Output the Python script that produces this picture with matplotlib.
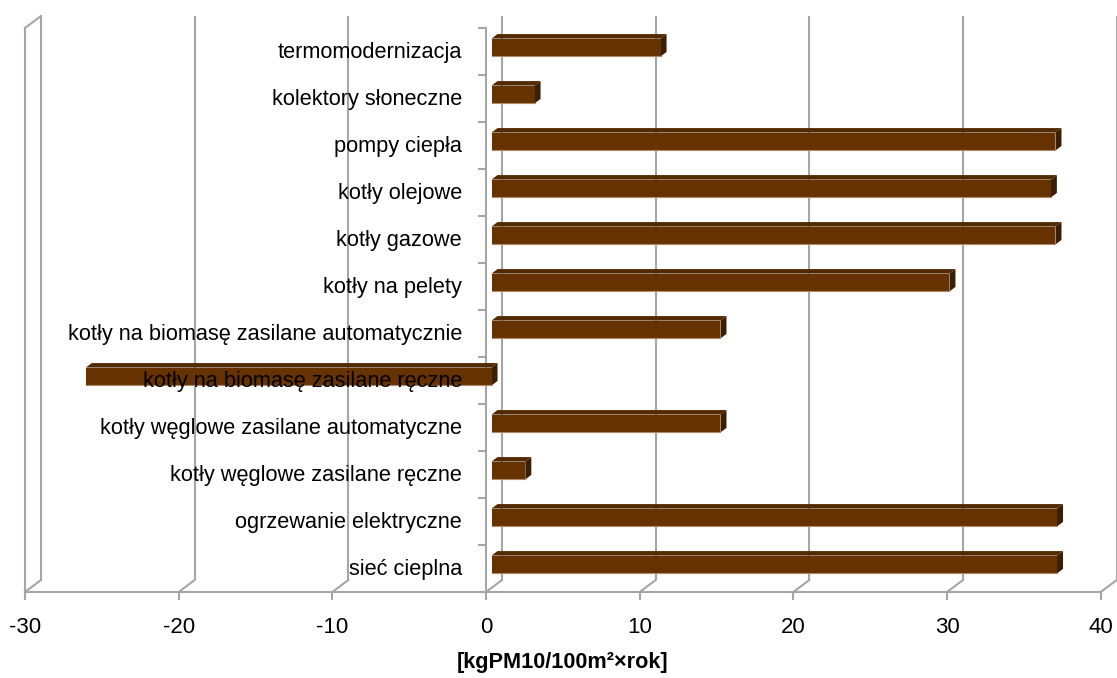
import numpy as np
import matplotlib
matplotlib.use('Agg')
import matplotlib.pyplot as plt
import matplotlib.transforms as mtransforms
from matplotlib.patches import Polygon

categories = ['termomodernizacja', 'kolektory słoneczne', 'pompy ciepła',
              'kotły olejowe', 'kotły gazowe', 'kotły na pelety',
              'kotły na biomasę zasilane automatycznie',
              'kotły na biomasę zasilane ręczne',
              'kotły węglowe zasilane automatyczne',
              'kotły węglowe zasilane ręczne', 'ogrzewanie elektryczne',
              'sieć cieplna']
values = [11.0, 2.8, 36.7, 36.4, 36.7, 29.8, 14.9, -26.4, 14.9, 2.2, 36.8, 36.8]
xticks = [-30, -20, -10, 0, 10, 20, 30, 40]
xlabel = '[kgPM10/100m²×rok]'

plt.rcParams['font.family'] = ['Liberation Sans', 'DejaVu Sans']

grid_c = '#a6a6a6'
front_c = '#663300'
top_c = '#532a00'
side_c = '#3c1e00'

W, H = 1117, 678
fig = plt.figure(figsize=(W / 100, H / 100), dpi=100)
ax = fig.add_axes([25 / W, (H - 592) / H, 1075.7 / W, 564 / H])
ax.set_xlim(-30, 40)
ax.set_ylim(0, len(categories))
ax.set_frame_on(False)


def depth(px, py):
    # pixel offset -> data offset
    o = ax.transData.transform((0, 0))
    return ax.transData.inverted().transform(o + np.array([px, py]))


bdx, bdy = depth(16, 12)      # back wall
fdx, fdy = depth(5.5, 4)      # bar front face
kdx, kdy = depth(11.5, 8.5)   # bar back face
n = len(categories)
ymax = n

# back wall gridlines
ax.vlines(np.array(xticks) + bdx, bdy, ymax + bdy, colors=grid_c, lw=1.5, zorder=1, clip_on=False)
# floor diagonals
for t in xticks:
    ax.plot([t, t + bdx], [0, bdy], color=grid_c, lw=1.5, zorder=1, clip_on=False)
# left wall
ax.plot([-30, -30], [0, ymax], color=grid_c, lw=1.5, zorder=1, clip_on=False)
ax.plot([-30, -30 + bdx], [ymax, ymax + bdy], color=grid_c, lw=1.5, zorder=1, clip_on=False)
# front floor line
ax.plot([-30, 40], [0, 0], color=grid_c, lw=1.5, zorder=1, clip_on=False)
# category axis
ax.plot([0, 0], [0, ymax], color=grid_c, lw=1.5, zorder=1, clip_on=False)
ax.plot(np.zeros(n + 1), np.arange(n + 1), ls='none', marker=0, ms=6,
        mew=1.5, color=grid_c, zorder=1, clip_on=False)

pos = np.arange(n)[::-1] + 0.5
bars = ax.barh(pos + fdy, values, left=fdx, height=0.38, color=front_c,
               edgecolor='none', zorder=3)
for b in bars:
    x0, x1 = b.get_x(), b.get_x() + b.get_width()
    x0, x1 = min(x0, x1), max(x0, x1)
    y0, y1 = b.get_y(), b.get_y() + b.get_height()
    ddx, ddy = kdx - fdx, kdy - fdy
    top = Polygon([(x0, y1), (x1, y1), (x1 + ddx, y1 + ddy), (x0 + ddx, y1 + ddy)],
                  closed=True, facecolor=top_c, edgecolor='none', zorder=2.9, clip_on=False)
    side = Polygon([(x1, y0), (x1 + ddx, y0 + ddy), (x1 + ddx, y1 + ddy), (x1, y1)],
                   closed=True, facecolor=side_c, edgecolor='none', zorder=2.9, clip_on=False)
    ax.add_patch(top)
    ax.add_patch(side)
    # light lower edge of the front face
    ax.plot([x0, x1], [y0, y0], color='#b08a68', lw=0.8, zorder=3.1, clip_on=False)
    b.set_clip_on(False)

lab_tr = mtransforms.offset_copy(ax.transData, fig, x=-24, y=-1, units='dots')
for p, c in zip(pos, categories):
    ax.text(0, p, c, ha='right', va='center', fontsize=15.7, transform=lab_tr, zorder=5)

ax.set_yticks([])
ax.set_xticks(xticks)
ax.set_xticklabels([str(t) for t in xticks], fontsize=16)
ax.tick_params(axis='x', direction='out', length=5.8, width=1.5, color=grid_c, pad=12)
ax.set_xlabel(xlabel, fontsize=15.6, fontweight='bold', labelpad=10)

fig.savefig('out.png', dpi=100)
